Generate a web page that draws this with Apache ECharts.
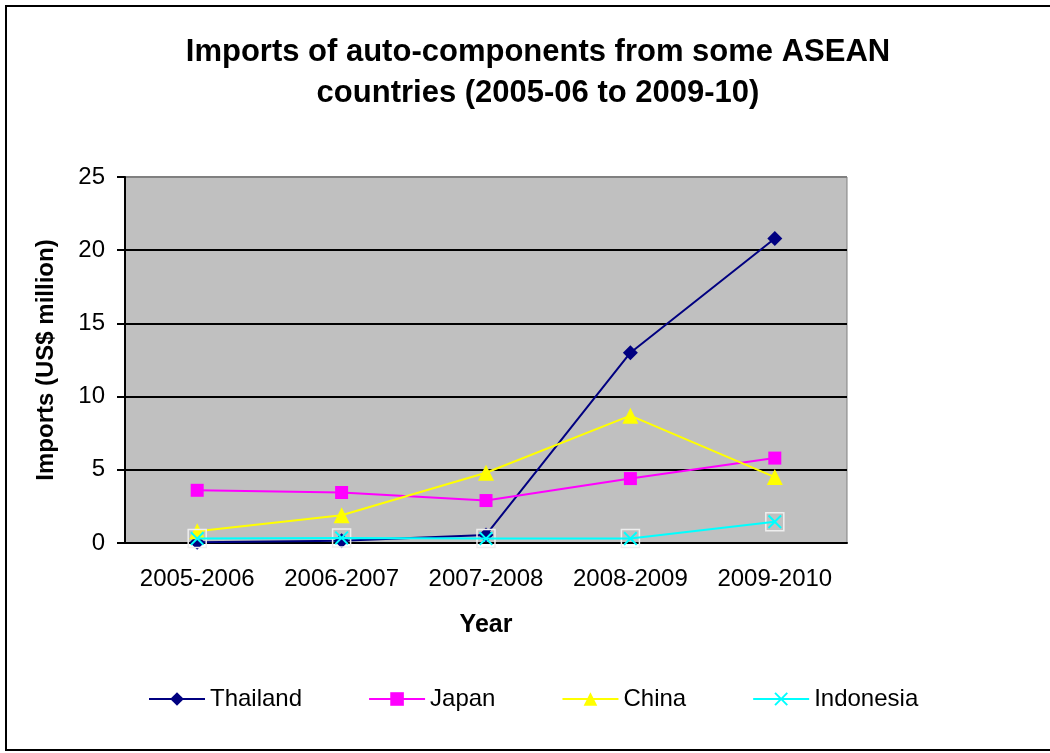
<!DOCTYPE html>
<html>
<head>
<meta charset="utf-8">
<script src="https://cdn.jsdelivr.net/npm/echarts@6/dist/echarts.min.js"></script>
<style>
  html, body { margin: 0; padding: 0; background: #fff; }
  #chart { width: 1050px; height: 753px; }
</style>
</head>
<body>
<div id="chart"></div>
<script>
// data
var years = ['2005-2006', '2006-2007', '2007-2008', '2008-2009', '2009-2010'];
var thailand = [0.05, 0.15, 0.55, 13.0, 20.8];
var japan = [3.6, 3.45, 2.9, 4.4, 5.8];
var china = [0.8, 1.9, 4.8, 8.7, 4.5];
var indonesia = [0.3, 0.35, 0.3, 0.3, 1.45];

var font = 'Liberation Sans, Arial, sans-serif';
// X shape for the Indonesia marker
var crossPath = 'path://M0,1 L1,0 L5,4 L9,0 L10,1 L6,5 L10,9 L9,10 L5,6 L1,10 L0,9 L4,5 Z';

var chart = echarts.init(document.getElementById('chart'));
var option = {
    animation: false,
    backgroundColor: '#fff',
    textStyle: { fontFamily: font },
    title: {
        text: 'Imports of auto-components from some ASEAN\ncountries (2005-06 to 2009-10)',
        left: 533,
        top: 27,
        textAlign: 'center',
        textStyle: { fontSize: 31, fontWeight: 'bold', color: '#000', lineHeight: 41, fontFamily: font }
    },
    graphic: [{
        type: 'rect',
        shape: { x: 6, y: 6, width: 1060, height: 744 },
        style: { fill: 'none', stroke: '#000', lineWidth: 2 },
        z: -1
    }],
    legend: {
        bottom: 37,
        left: 143,
        itemWidth: 56,
        itemHeight: 17,
        itemGap: 66,
        textStyle: { fontSize: 24, color: '#000', fontFamily: font },
        data: ['Thailand', 'Japan', 'China', 'Indonesia']
    },
    grid: {
        left: 125, top: 177, right: 203, bottom: 210,
        show: true,
        backgroundColor: '#c0c0c0',
        borderColor: '#808080',
        borderWidth: 1
    },
    xAxis: {
        type: 'category',
        data: years,
        boundaryGap: true,
        name: 'Year',
        nameLocation: 'middle',
        nameGap: 70,
        nameTextStyle: { fontSize: 25, fontWeight: 'bold', color: '#000' },
        axisLine: { lineStyle: { color: '#000', width: 2 } },
        axisTick: { alignWithLabel: false, length: 7, lineStyle: { color: '#000', width: 2 } },
        axisLabel: { fontSize: 24, color: '#000', margin: 24, interval: 0, hideOverlap: false }
    },
    yAxis: {
        type: 'value',
        min: 0,
        max: 25,
        interval: 5,
        name: 'Imports (US$ million)',
        nameLocation: 'middle',
        nameGap: 67,
        nameTextStyle: { fontSize: 24, fontWeight: 'bold', color: '#000' },
        axisLine: { show: true, lineStyle: { color: '#000', width: 2 } },
        axisTick: { show: true, length: 8, lineStyle: { color: '#000', width: 2 } },
        axisLabel: { fontSize: 24, color: '#000', margin: 20 },
        splitLine: { show: true, lineStyle: { color: ['#000', '#000', '#000', '#000', '#000', '#808080'], width: 2 } }
    },
    series: [
        {
            name: 'Thailand', type: 'line', data: thailand,
            symbol: 'diamond', symbolSize: 15,
            lineStyle: { color: '#000080', width: 2 },
            itemStyle: { color: '#000080' }
        },
        {
            name: 'Japan', type: 'line', data: japan,
            symbol: 'rect', symbolSize: 13,
            lineStyle: { color: '#ff00ff', width: 2 },
            itemStyle: { color: '#ff00ff' }
        },
        {
            name: 'China', type: 'line', data: china,
            symbol: 'triangle', symbolSize: 16,
            lineStyle: { color: '#ffff00', width: 2 },
            itemStyle: { color: '#ffff00' }
        },
        {
            name: 'Indonesia', type: 'line', data: indonesia,
            symbol: crossPath, symbolSize: 14,
            lineStyle: { color: '#00ffff', width: 2 },
            itemStyle: { color: '#00ffff' },
            z: 4
        },
        {
            // light box around each Indonesia marker
            name: 'IndonesiaBox', type: 'line', data: indonesia,
            symbol: 'rect', symbolSize: 18,
            lineStyle: { opacity: 0 },
            itemStyle: { color: 'rgba(0,0,0,0)', borderColor: '#eeeeee', borderWidth: 1.5 },
            z: 3
        }
    ]
};
chart.setOption(option);
</script>
</body>
</html>
